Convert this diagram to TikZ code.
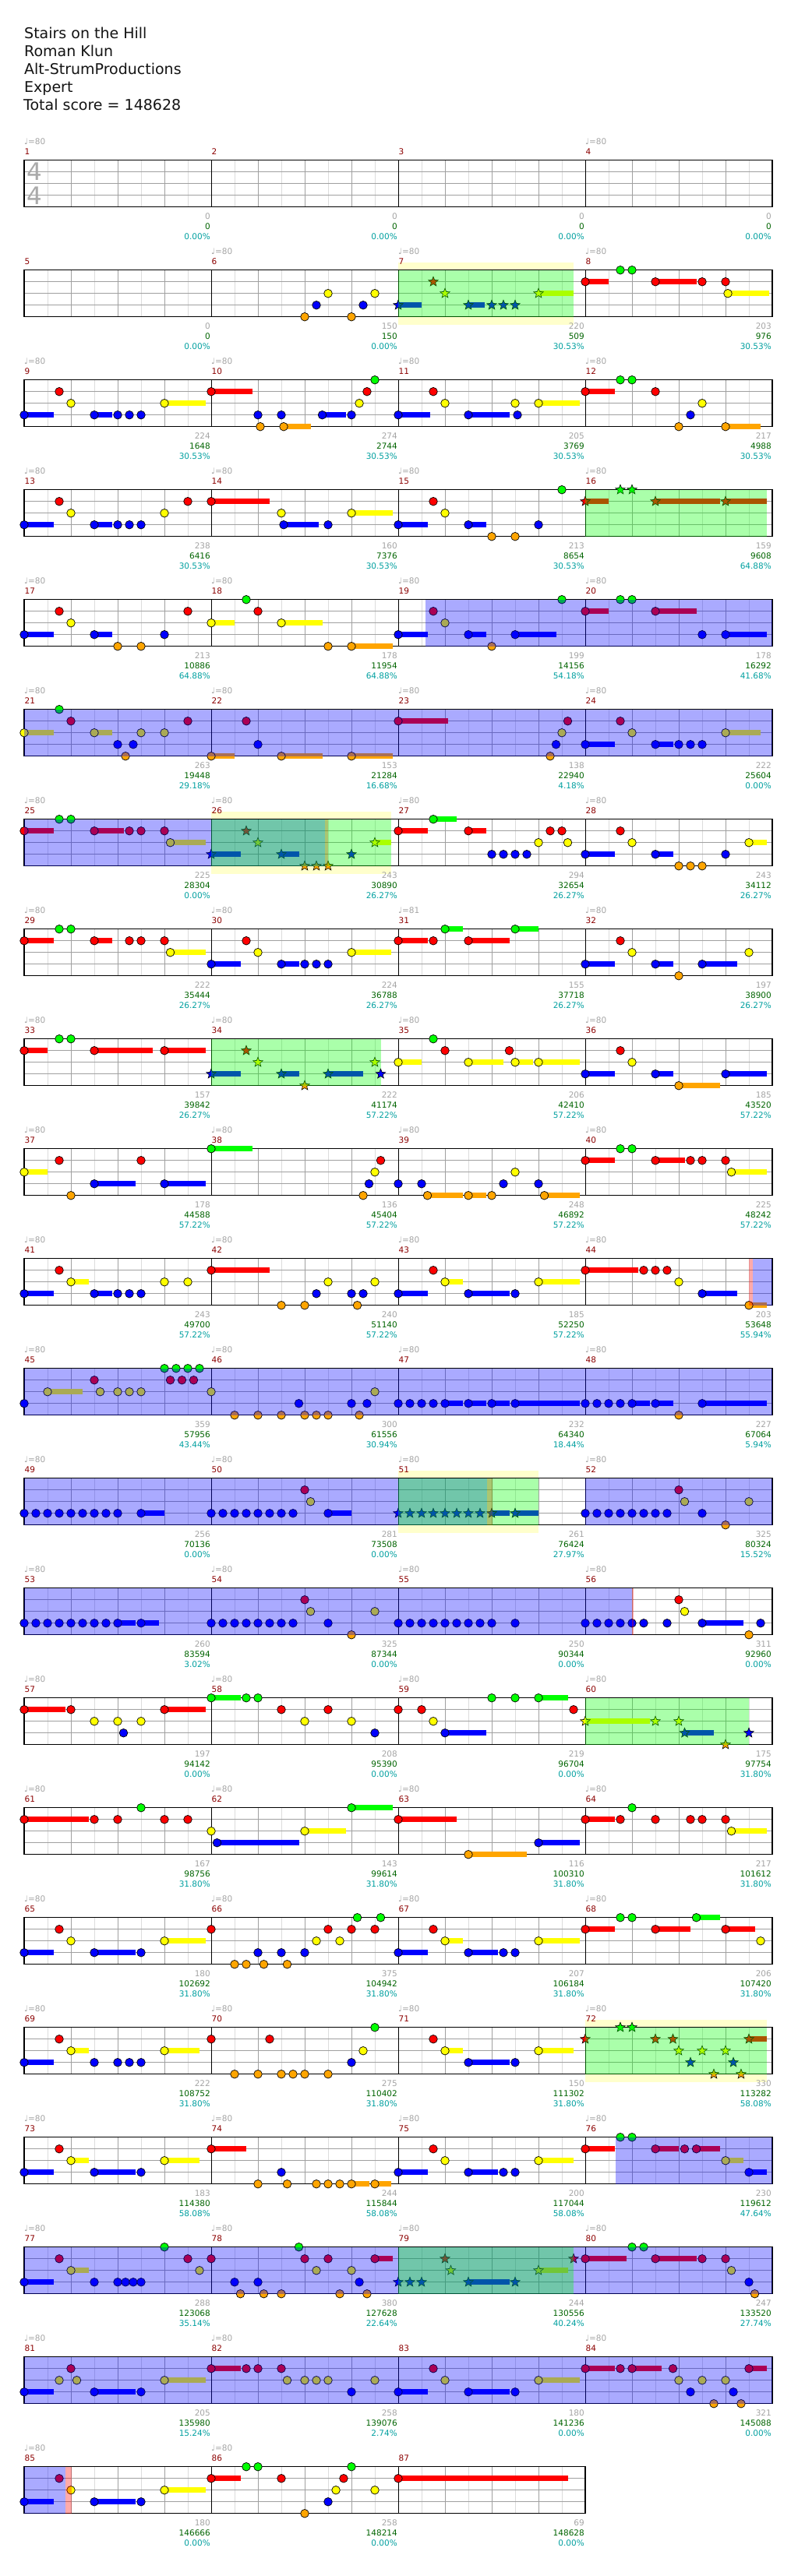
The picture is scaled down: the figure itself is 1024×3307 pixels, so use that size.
\documentclass[tikz,border=0pt]{standalone}
\usepackage{fontspec}
\setmainfont{DejaVu Sans}
\usetikzlibrary{shapes.geometric}
\definecolor{L0}{RGB}{0,255,0}
\definecolor{L1}{RGB}{255,0,0}
\definecolor{L2}{RGB}{255,255,0}
\definecolor{L3}{RGB}{0,0,255}
\definecolor{L4}{RGB}{255,165,0}
\definecolor{gridl}{RGB}{220,220,220}
\definecolor{gridd}{RGB}{160,160,160}
\definecolor{bandc}{RGB}{255,255,204}
\definecolor{mnum}{RGB}{140,0,0}
\definecolor{tgray}{RGB}{165,165,165}
\definecolor{scg}{RGB}{0,100,0}
\definecolor{pctc}{RGB}{0,160,160}
\definecolor{tsig}{RGB}{170,170,170}
\newcommand\xsm{\fontsize{10.5}{12}\selectfont}
\newcommand\xROW[1]{\pgfmathsetmacro\RT{205.7+(#1-1)*141}}
\newcommand\xGRID[1]{%
 \pgfmathtruncatemacro\nh{8*#1-1}%
 \pgfmathtruncatemacro\nb{4*#1-1}%
 \pgfmathtruncatemacro\nm{#1-1}%
 \fill[white] (31,\RT) rectangle ({31+240*#1},\RT+60);
 \foreach \k in {1,...,\nh}{\draw[gridl,line width=1] ({31+30*\k},\RT) -- ({31+30*\k},\RT+60);}
 \foreach \k in {1,...,\nb}{\draw[gridd,line width=1] ({31+60*\k},\RT) -- ({31+60*\k},\RT+60);}
 \foreach \k in {1,2,3}{\draw[gridd,line width=1] (31,\RT+15*\k) -- ({31+240*#1},\RT+15*\k);}
 \foreach \k in {1,...,\nm}{\draw[black,line width=1] ({31+240*\k},\RT) -- ({31+240*\k},\RT+60);}
 \draw[black,line width=1.2] (31,\RT) rectangle ({31+240*#1},\RT+60);
}
\newcommand\xSUS[1]{\foreach \pa/\pb/\la in {#1}{\fill[fill=L\la] ({31+15*\pa},{\RT+15*\la-3.6}) rectangle ({31+15*\pb},{\RT+15*\la+3.6});}}
\newcommand\xNT[1]{\foreach \ps/\la in {#1}{\filldraw[fill=L\la,draw=black,line width=.7] ({31+15*\ps},{\RT+15*\la}) circle (5.3pt);}}
\newcommand\xST[1]{\foreach \ps/\la in {#1}{\node[star,star points=5,star point ratio=2.3,minimum size=13pt,inner sep=0pt,draw=black,line width=.6,fill=L\la] at ({31+15*\ps},{\RT+15*\la}) {};}}
\newcommand\xBAND[2]{\fill[bandc] ({31+15*#1},\RT-10) rectangle ({31+15*#2},\RT+70);}
\newcommand\xBOV[2]{\fill[L3,opacity=.333] ({31+15*#1},\RT) rectangle ({31+15*#2},\RT+60);}
\newcommand\xGOV[2]{\fill[L0,opacity=.333] ({31+15*#1},\RT) rectangle ({31+15*#2},\RT+60);}
\newcommand\xPOV[2]{\fill[L1,opacity=.333] ({31+15*#1},\RT) rectangle ({31+15*#2},\RT+60);}
\newcommand\xM[6]{%
 \pgfmathsetmacro\mx{31+240*#1}%
 \node[anchor=base west,inner sep=0,text=mnum,font=\xsm] at (\mx+0.5,\RT-7.5) {#2};
 \if\relax\detokenize{#3}\relax\else
 \node[anchor=base west,inner sep=0,text=tgray,font=\xsm] at (\mx,\RT-20.5) {♩=#3};\fi
 \node[anchor=base east,inner sep=0,text=tgray,font=\xsm] at (\mx+239,\RT+76) {#4};
 \node[anchor=base east,inner sep=0,text=scg,font=\xsm] at (\mx+239,\RT+89) {#5};
 \node[anchor=base east,inner sep=0,text=pctc,font=\xsm] at (\mx+239,\RT+102) {#6};
}
\begin{document}
\begin{tikzpicture}[x=1pt,y=-1pt]
\useasboundingbox[fill=white] (0,0) rectangle (1024,3307);
\begin{scope}[every node/.style={anchor=base west,inner sep=0,font=\fontsize{19}{23}\selectfont,text={rgb,255:red,20;green,20;blue,20}}]
\node (h1) at (31,49.3) {Stairs on the Hill};
\node (h2) at (31,72.3) {Roman Klun};
\node (h3) at (31,95.3) {Alt-StrumProductions};
\node (h4) at (31,118.3) {Expert};
\node (h5) at (30,141.3) {Total score = 148628};
\end{scope}
% ---- row 1
\xROW{1}\xGRID{4}
\node[inner sep=0,text=tsig,font=\fontsize{31}{31}\selectfont] (ts1) at (44,220.5) {4};
\node[inner sep=0,text=tsig,font=\fontsize{31}{31}\selectfont] (ts2) at (44,250.7) {4};
\xM{0}{1}{80}{0}{0}{0.00\%}\xM{1}{2}{}{0}{0}{0.00\%}\xM{2}{3}{}{0}{0}{0.00\%}\xM{3}{4}{80}{0}{0}{0.00\%}
% ---- row 2
\xROW{2}\xBAND{32}{47}\xGRID{4}
\xSUS{32/34/3,38/39.4/3,44/47/2,48/50/1,54/57.5/1,60.2/63.7/2}
\xNT{24/4,25/3,26/2,28/4,29/3,30/2,48/1,51/0,52/0,54/1,58/1,60/1,60.2/2}
\xST{32/3,35/1,36/2,38/3,40/3,41/3,42/3,44/2}
\xGOV{32}{47}
\xM{0}{5}{}{0}{0}{0.00\%}\xM{1}{6}{80}{150}{150}{0.00\%}\xM{2}{7}{80}{220}{509}{30.53\%}\xM{3}{8}{80}{203}{976}{30.53\%}
% ---- row 3
\xROW{3}\xGRID{4}
\xSUS{0/2.5/3,6/7.5/3,12/15.5/2,16/19.5/1,22.2/24.5/4,25.5/27.5/3,32/34.75/3,38/41.5/3,44/47.5/2,48/50.5/1,60/63/4}
\xNT{0/3,3/1,4/2,6/3,8/3,9/3,10/3,12/2,16/1,20/3,20.2/4,22/3,22.2/4,25.5/3,28/3,28.67/2,29.33/1,30/0,32/3,35/1,36/2,38/3,42/2,42.2/3,44/2,48/1,51/0,52/0,54/1,56/4,57/3,58/2,60/4}
\xM{0}{9}{80}{224}{1648}{30.53\%}\xM{1}{10}{80}{274}{2744}{30.53\%}\xM{2}{11}{80}{205}{3769}{30.53\%}\xM{3}{12}{80}{217}{4988}{30.53\%}
% ---- row 4
\xROW{4}\xGRID{4}
\xSUS{0/2.5/3,6/7.5/3,16/21/1,22.2/25.2/3,28/31.5/2,32/34.5/3,38/39.5/3,48/50/1,54/59.5/1,60/63.5/1}
\xNT{0/3,3/1,4/2,6/3,8/3,9/3,10/3,12/2,14/1,16/1,22/2,22.2/3,26/3,28/2,32/3,35/1,36/2,38/3,40/4,42/4,44/3,46/0}
\xST{48/1,51/0,52/0,54/1,60/1}
\xGOV{48}{63.5}
\xM{0}{13}{80}{238}{6416}{30.53\%}\xM{1}{14}{80}{160}{7376}{30.53\%}\xM{2}{15}{80}{213}{8654}{30.53\%}\xM{3}{16}{80}{159}{9608}{64.88\%}
% ---- row 5
\xROW{5}\xGRID{4}
\xSUS{0/2.5/3,6/7.5/3,16/18/2,22/25.5/2,28/31.5/4,32/34.5/3,38/39.5/3,42/45.5/3,48/50/1,54/57.5/1,60/63.5/3}
\xNT{0/3,3/1,4/2,6/3,8/4,10/4,12/3,14/1,16/2,19/0,20/1,22/2,26/4,28/4,32/3,35/1,36/2,38/3,40/4,42/3,46/0,48/1,51/0,52/0,54/1,58/3,60/3}
\xBOV{34.3}{64}
\xM{0}{17}{80}{213}{10886}{64.88\%}\xM{1}{18}{80}{178}{11954}{64.88\%}\xM{2}{19}{80}{199}{14156}{54.18\%}\xM{3}{20}{80}{178}{16292}{41.68\%}
% ---- row 6
\xROW{6}\xGRID{4}
\xSUS{0/2.5/2,6/7.5/2,16/18/4,22/25.5/4,28/31.5/4,32/36.25/1,48/50.5/3,54/55.5/3,60/63/2}
\xNT{0/2,3/0,4/1,6/2,8/3,8.67/4,9.33/3,10/2,12/2,14/1,16/4,19/1,20/3,22/4,28/4,32/1,45/4,45.5/3,46/2,46.5/1,48/3,51/1,52/2,54/3,56/3,57/3,58/3,60/2}
\xBOV{0}{64}
\xM{0}{21}{80}{263}{19448}{29.18\%}\xM{1}{22}{80}{153}{21284}{16.68\%}\xM{2}{23}{80}{138}{22940}{4.18\%}\xM{3}{24}{80}{222}{25604}{0.00\%}
% ---- row 7
\xROW{7}\xBAND{16}{31.4}\xGRID{4}
\xSUS{0/2.5/1,6/8.5/1,12.5/15.5/2,16/18.5/3,22/23.5/3,30/31.4/2,32/34.5/1,35/37/0,38/39.5/1,48/50.5/3,54/55.5/3,62/63.5/2}
\xNT{0/1,3/0,4/0,6/1,9/1,10/1,12/1,12.5/2,32/1,35/0,38/1,40/3,41/3,42/3,43/3,44/2,45/1,46/1,46.5/2,48/3,51/1,52/2,54/3,56/4,57/4,58/4,60/3,62/2}
\xST{16/3,19/1,20/2,22/3,24/4,25/4,26/4,28/3,30/2}
\xBOV{0}{25.7}\xPOV{25.7}{26}\xGOV{16}{31.4}
\xM{0}{25}{80}{225}{28304}{0.00\%}\xM{1}{26}{80}{243}{30890}{26.27\%}\xM{2}{27}{80}{294}{32654}{26.27\%}\xM{3}{28}{80}{243}{34112}{26.27\%}
% ---- row 8
\xROW{8}\xGRID{4}
\xSUS{0/2.5/1,6/7.5/1,12.5/15.5/2,16/18.5/3,22/23.5/3,28/31.4/2,32/34.5/1,36/37.5/0,38/41.5/1,42/44/0,48/50.5/3,54/55.5/3,58/61/3}
\xNT{0/1,3/0,4/0,6/1,9/1,10/1,12/1,12.5/2,16/3,19/1,20/2,22/3,24/3,25/3,26/3,28/2,32/1,35/1,36/0,38/1,42/0,48/3,51/1,52/2,54/3,56/4,58/3,62/2}
\xM{0}{29}{80}{222}{35444}{26.27\%}\xM{1}{30}{80}{224}{36788}{26.27\%}\xM{2}{31}{81}{155}{37718}{26.27\%}\xM{3}{32}{80}{197}{38900}{26.27\%}
% ---- row 9
\xROW{9}\xGRID{4}
\xSUS{0/2/1,6/11/1,12/15.5/1,16/18.5/3,22/23.5/3,26/29/3,32/34/2,38/41/2,42/43.5/2,44/47.5/2,48/50.5/3,54/55.5/3,56/59.5/4,60/63.5/3}
\xNT{0/1,3/0,4/0,6/1,12/1,32/2,35/0,36/1,38/2,41.5/1,42/2,44/2,48/3,51/1,52/2,54/3,56/4,60/3}
\xST{16/3,19/1,20/2,22/3,24/4,26/3,30/2}
\xGOV{16}{30.5}
\xST{30.5/3}
\xM{0}{33}{80}{157}{39842}{26.27\%}\xM{1}{34}{80}{222}{41174}{57.22\%}\xM{2}{35}{80}{206}{42410}{57.22\%}\xM{3}{36}{80}{185}{43520}{57.22\%}
% ---- row 10
\xROW{10}\xGRID{4}
\xSUS{0/2/2,6/9.5/3,12/15.5/3,16/19.5/0,34.5/37.5/4,38/39.5/4,44.5/47.5/4,48/50.5/1,54/56.5/1,60.5/63.5/2}
\xNT{0/2,3/1,4/4,6/3,10/1,12/3,16/0,29/4,29.5/3,30/2,30.5/1,32/3,34/3,34.5/4,38/4,40/4,41/3,42/2,44/3,44.5/4,48/1,51/0,52/0,54/1,57/1,58/1,60/1,60.5/2}
\xM{0}{37}{80}{178}{44588}{57.22\%}\xM{1}{38}{80}{136}{45404}{57.22\%}\xM{2}{39}{80}{248}{46892}{57.22\%}\xM{3}{40}{80}{225}{48242}{57.22\%}
% ---- row 11
\xROW{11}\xGRID{4}
\xSUS{0/2.5/3,4/5.5/2,6/7.5/3,16/21/1,32/34.5/3,36/37.5/2,38/41.5/3,44/47.5/2,48/52.5/1,58/61/3,62/63.5/4}
\xNT{0/3,3/1,4/2,6/3,8/3,9/3,10/3,12/2,14/2,16/1,22/4,24/4,25/3,26/2,28/3,28.5/4,29/3,30/2,32/3,35/1,36/2,38/3,42/3,44/2,48/1,53/1,54/1,55/1,56/2,58/3,62/4}
\xPOV{62}{62.35}\xBOV{62.35}{64}
\xM{0}{41}{80}{243}{49700}{57.22\%}\xM{1}{42}{80}{240}{51140}{57.22\%}\xM{2}{43}{80}{185}{52250}{57.22\%}\xM{3}{44}{80}{203}{53648}{55.94\%}
% ---- row 12
\xROW{12}\xGRID{4}
\xSUS{2/5/2,36/37.5/3,38/39.5/3,40/41.5/3,42/47.5/3,52/53.5/3,54/55.5/3,58/63.5/3}
\xNT{0/3,2/2,6/1,6.5/2,8/2,9/2,10/2,12/0,13/0,14/0,15/0,12.5/1,13.5/1,14.5/1,16/2,18/4,20/4,22/4,23.5/3,24/4,25/4,26/4,28/3,28.67/4,29.33/3,30/2,32/3,33/3,34/3,35/3,36/3,38/3,40/3,42/3,48/3,49/3,50/3,51/3,52/3,54/3,56/4,58/3}
\xBOV{0}{64}
\xM{0}{45}{80}{359}{57956}{43.44\%}\xM{1}{46}{80}{300}{61556}{30.94\%}\xM{2}{47}{80}{232}{64340}{18.44\%}\xM{3}{48}{80}{227}{67064}{5.94\%}
% ---- row 13
\xROW{13}\xBAND{32}{44}\xGRID{4}
\xSUS{10/12/3,26/28/3,40/41.5/3,42/44/3}
\xNT{0/3,1/3,2/3,3/3,4/3,5/3,6/3,7/3,8/3,10/3,16/3,17/3,18/3,19/3,20/3,21/3,22/3,23/3,24/1,24.5/2,26/3,48/3,49/3,50/3,51/3,52/3,53/3,54/3,55/3,56/1,56.5/2,58/3,60/4,62/2}
\xST{32/3,33/3,34/3,35/3,36/3,37/3,38/3,39/3,40/3,42/3}
\xBOV{0}{39.6}\xPOV{39.6}{40.05}\xGOV{32}{44}\xBOV{48}{64}
\xM{0}{49}{80}{256}{70136}{0.00\%}\xM{1}{50}{80}{281}{73508}{0.00\%}\xM{2}{51}{80}{261}{76424}{27.97\%}\xM{3}{52}{80}{325}{80324}{15.52\%}
% ---- row 14
\xROW{14}\xGRID{4}
\xSUS{8/9.5/3,10/11.5/3,58/61.5/3}
\xNT{0/3,1/3,2/3,3/3,4/3,5/3,6/3,7/3,8/3,10/3,16/3,17/3,18/3,19/3,20/3,21/3,22/3,23/3,24/1,24.5/2,26/3,28/4,30/2,32/3,33/3,34/3,35/3,36/3,37/3,38/3,39/3,40/3,42/3,48/3,49/3,50/3,51/3,52/3,53/3,55/3,56/1,56.5/2,58/3,62/4,63/3}
\xBOV{0}{52}\xPOV{52}{52.1}
\xM{0}{53}{80}{260}{83594}{3.02\%}\xM{1}{54}{80}{325}{87344}{0.00\%}\xM{2}{55}{80}{250}{90344}{0.00\%}\xM{3}{56}{80}{311}{92960}{0.00\%}
% ---- row 15
\xROW{15}\xGRID{4}
\xSUS{0/3.5/1,12/15.5/1,16/18.5/0,36/39.5/3,44/46.5/0,48/53.5/2,56.5/59/3}
\xNT{0/1,4/1,6/2,8/2,8.5/3,10/2,12/1,16/0,19/0,20/0,22/1,24/2,26/1,28/2,30/3,32/1,34/1,35/2,36/3,40/0,42/0,44/0,47/1}
\xST{48/2,54/2,56/2,56.5/3,60/4}
\xGOV{48}{62}
\xST{62/3}
\xM{0}{57}{80}{197}{94142}{0.00\%}\xM{1}{58}{80}{208}{95390}{0.00\%}\xM{2}{59}{80}{219}{96704}{0.00\%}\xM{3}{60}{80}{175}{97754}{31.80\%}
% ---- row 16
\xROW{16}\xGRID{4}
\xSUS{0/5.5/1,16.5/23.5/3,24/27.5/2,28/31.5/0,32/37/1,38/43/4,44/47.5/3,48/50.5/1,60.5/63.5/2}
\xNT{0/1,6/1,8/1,10/0,12/1,14/1,16/2,16.5/3,24/2,28/0,32/1,38/4,44/3,48/1,51/1,52/0,54/1,57/1,58/1,60/1,60.5/2}
\xM{0}{61}{80}{167}{98756}{31.80\%}\xM{1}{62}{80}{143}{99614}{31.80\%}\xM{2}{63}{80}{116}{100310}{31.80\%}\xM{3}{64}{80}{217}{101612}{31.80\%}
% ---- row 17
\xROW{17}\xGRID{4}
\xSUS{0/2.5/3,6/9.5/3,12/15.5/2,32/34.5/3,36/37.5/2,38/40.5/3,44/47.5/2,48/50.5/1,54/57/1,57.5/59.5/0,60/62.5/1}
\xNT{0/3,3/1,4/2,6/3,10/3,12/2,16/1,18/4,19/4,20/3,20.5/4,22/3,22.5/4,24/3,25/2,26/1,27/2,28/1,28.5/0,30/1,30.5/0,32/3,35/1,36/2,38/3,41/3,42/3,44/2,48/1,51/0,52/0,54/1,57.5/0,60/1,63/2}
\xM{0}{65}{80}{180}{102692}{31.80\%}\xM{1}{66}{80}{375}{104942}{31.80\%}\xM{2}{67}{80}{207}{106184}{31.80\%}\xM{3}{68}{80}{206}{107420}{31.80\%}
% ---- row 18
\xROW{18}\xBAND{48}{63.5}\xGRID{4}
\xSUS{0/2.5/3,4/5.5/2,12/15/2,36/37.5/2,38/41.5/3,44/47/2,62/63.5/1}
\xNT{0/3,3/1,4/2,6/3,8/3,9/3,10/3,12/2,16/1,18/4,20/4,21/1,22/4,23/4,24/4,26/4,28/3,29/2,30/0,35/1,36/2,38/3,42/3,44/2}
\xST{48/1,51/0,52/0,54/1,55.5/1,56/2,57/3,58/2,59/4,60/2,60.67/3,61.33/4,62/1}
\xGOV{48}{63.5}
\xM{0}{69}{80}{222}{108752}{31.80\%}\xM{1}{70}{80}{275}{110402}{31.80\%}\xM{2}{71}{80}{150}{111302}{31.80\%}\xM{3}{72}{80}{330}{113282}{58.08\%}
% ---- row 19
\xROW{19}\xGRID{4}
\xSUS{0/2.5/3,4/5.5/2,6/9.5/3,12/15/2,16/19/1,28/29.5/4,30/31.4/4,32/34.5/3,38/40.5/3,44/47/2,48/50.5/1,54/56/1,57.5/59.5/1,60/61.5/2,62/63.5/3}
\xNT{0/3,3/1,4/2,6/3,10/3,12/2,16/1,20/4,22/3,22.5/4,25/4,26/4,27/4,28/4,30/4,32/3,35/1,36/2,38/3,41/3,42/3,44/2,48/1,51/0,52/0,54/1,56.5/1,57.5/1,60/2,62/3}
\xBOV{50.6}{64}
\xM{0}{73}{80}{183}{114380}{58.08\%}\xM{1}{74}{80}{244}{115844}{58.08\%}\xM{2}{75}{80}{200}{117044}{58.08\%}\xM{3}{76}{80}{230}{119612}{47.64\%}
% ---- row 20
\xROW{20}\xGRID{4}
\xSUS{0/2.5/3,4/5.5/2,30/31.5/1,38/41.5/3,44/46.5/2,48/51.5/1,54/57.5/1}
\xNT{0/3,3/1,4/2,6/3,8/3,8.67/3,9.33/3,10/3,12/0,14/1,15/2,16/1,18/3,18.5/4,20/3,20.5/4,22/4,23.5/0,24/1,25/2,26/1,27/4,28/2,28.67/3,29.33/4,30/1,48/1,52/0,53/0,54/1,58/1,60/1,60.5/2,62/3,62.5/4}
\xST{32/3,33/3,34/3,36/1,36.5/2,38/3,42/3,44/2,47/1}
\xBOV{0}{64}\xGOV{32}{47}
\xM{0}{77}{80}{288}{123068}{35.14\%}\xM{1}{78}{80}{380}{127628}{22.64\%}\xM{2}{79}{80}{244}{130556}{40.24\%}\xM{3}{80}{80}{247}{133520}{27.74\%}
% ---- row 21
\xROW{21}\xGRID{4}
\xSUS{0/2.5/3,6/9.5/3,12/15.5/2,16/18.5/1,32/34.5/3,38/41.5/3,44/47.5/2,48/50.5/1,52/54.5/1,62/63.5/1}
\xNT{0/3,3/2,4/1,4.5/2,6/3,10/3,12/2,16/1,19/1,20/1,22/1,22.5/2,24/2,25/2,26/2,28/3,30/2,32/3,35/1,36/2,38/3,42/3,44/2,48/1,51/1,52/1,55.5/1,56/2,57/3,58/2,59/4,60/2,60.67/3,61.33/4,62/1}
\xBOV{0}{64}
\xM{0}{81}{80}{205}{135980}{15.24\%}\xM{1}{82}{80}{258}{139076}{2.74\%}\xM{2}{83}{}{180}{141236}{0.00\%}\xM{3}{84}{80}{321}{145088}{0.00\%}
% ---- row 22
\xROW{22}\xGRID{3}
\xSUS{0/2.5/3,6/9.5/3,12/15.5/2,16/18.5/1,32/46.5/1}
\xNT{0/3,3/1,4/2,6/3,10/3,12/2,16/1,19/0,20/0,22/1,24/4,26/3,26.67/2,27.33/1,28/0,30/2,32/1}
\xBOV{0}{3.5}\xPOV{3.5}{4.05}
\xM{0}{85}{80}{180}{146666}{0.00\%}\xM{1}{86}{80}{258}{148214}{0.00\%}\xM{2}{87}{}{69}{148628}{0.00\%}
\end{tikzpicture}
\end{document}
